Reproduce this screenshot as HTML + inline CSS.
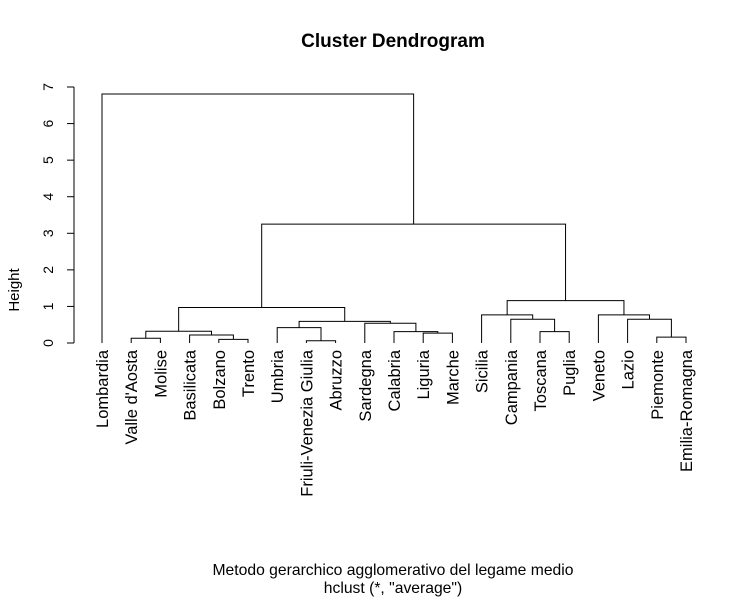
<!DOCTYPE html>
<html><head><meta charset="utf-8"><style>
body{margin:0;background:#fff}
svg text{font-family:"Liberation Sans",Arial,sans-serif;fill:#000}
</style></head><body>
<svg id="chart" width="750" height="599" xmlns="http://www.w3.org/2000/svg">
<text x="393" y="47" text-anchor="middle" font-size="19" font-weight="bold">Cluster Dendrogram</text>
<text transform="translate(19,290) rotate(-90)" text-anchor="middle" font-size="15">Height</text>
<text x="393" y="575" text-anchor="middle" font-size="15.7">Metodo gerarchico agglomerativo del legame medio</text>
<text x="393" y="593" text-anchor="middle" font-size="15.7">hclust (*, "average")</text>
<g id="yaxis"></g>
<g id="tree"></g>
<g id="labels"></g>
</svg>
<script>
const leaves=["Lombardia","Valle d'Aosta","Molise","Basilicata","Bolzano","Trento","Umbria","Friuli-Venezia Giulia","Abruzzo","Sardegna","Calabria","Liguria","Marche","Sicilia","Campania","Toscana","Puglia","Veneto","Lazio","Piemonte","Emilia-Romagna"];
const mergeA=[-5,-8,-2,-20,-4,-12,-16,-11,3,-7,-10,10,-15,-19,-14,-18,9,15,17,-1];
const mergeB=[-6,-9,-3,-21,1,-13,-17,6,5,2,8,11,7,4,13,14,12,16,18,19];
const mergeHeight=[0.10,0.06,0.13,0.16,0.22,0.27,0.31,0.31,0.32,0.42,0.54,0.59,0.65,0.65,0.77,0.77,0.97,1.16,3.25,6.81];
const yTicks=[0,1,2,3,4,5,6,7];
const NS="http://www.w3.org/2000/svg";
const y=v=>343-v*36.57;
const x=i=>102+i*29.2;
function mk(tag,attrs,parent){const e=document.createElementNS(NS,tag);for(const k in attrs)e.setAttribute(k,attrs[k]);parent.appendChild(e);return e;}
const ya=document.getElementById('yaxis');
let l=mk('line',{x1:74,x2:74,y1:y(0),y2:y(7),stroke:'#000'},ya);


yTicks.forEach(t=>{
  const tk=mk('line',{x1:67,x2:74,y1:y(t),y2:y(t),stroke:'#000'},ya);
  
  
  const tx=mk('text',{transform:`translate(53,${y(t)}) rotate(-90)`,'text-anchor':'middle','font-size':'14'},ya);
  tx.textContent=t;
  
  
});
const lb=document.getElementById('labels');
leaves.forEach((n,i)=>{
  const t=mk('text',{transform:`translate(${x(i)+6},350) rotate(-90)`,'text-anchor':'end','font-size':'16.5'},lb);
  t.textContent=n;
  
  
});
const tree=document.getElementById('tree');
const pos=[],hh=[];
function node(id){return id<0?{x:x(-id-1),h:0}:{x:pos[id-1],h:hh[id-1]};}
for(let k=0;k<mergeA.length;k++){
  const a=node(mergeA[k]),b=node(mergeB[k]),h=mergeHeight[k];
  const p=mk('path',{d:`M${a.x},${y(a.h)}V${y(h)}H${b.x}V${y(b.h)}`,fill:'none',stroke:'#000','stroke-width':1},tree);
  
  
  pos.push((a.x+b.x)/2);hh.push(h);
}
</script>
</body></html>
